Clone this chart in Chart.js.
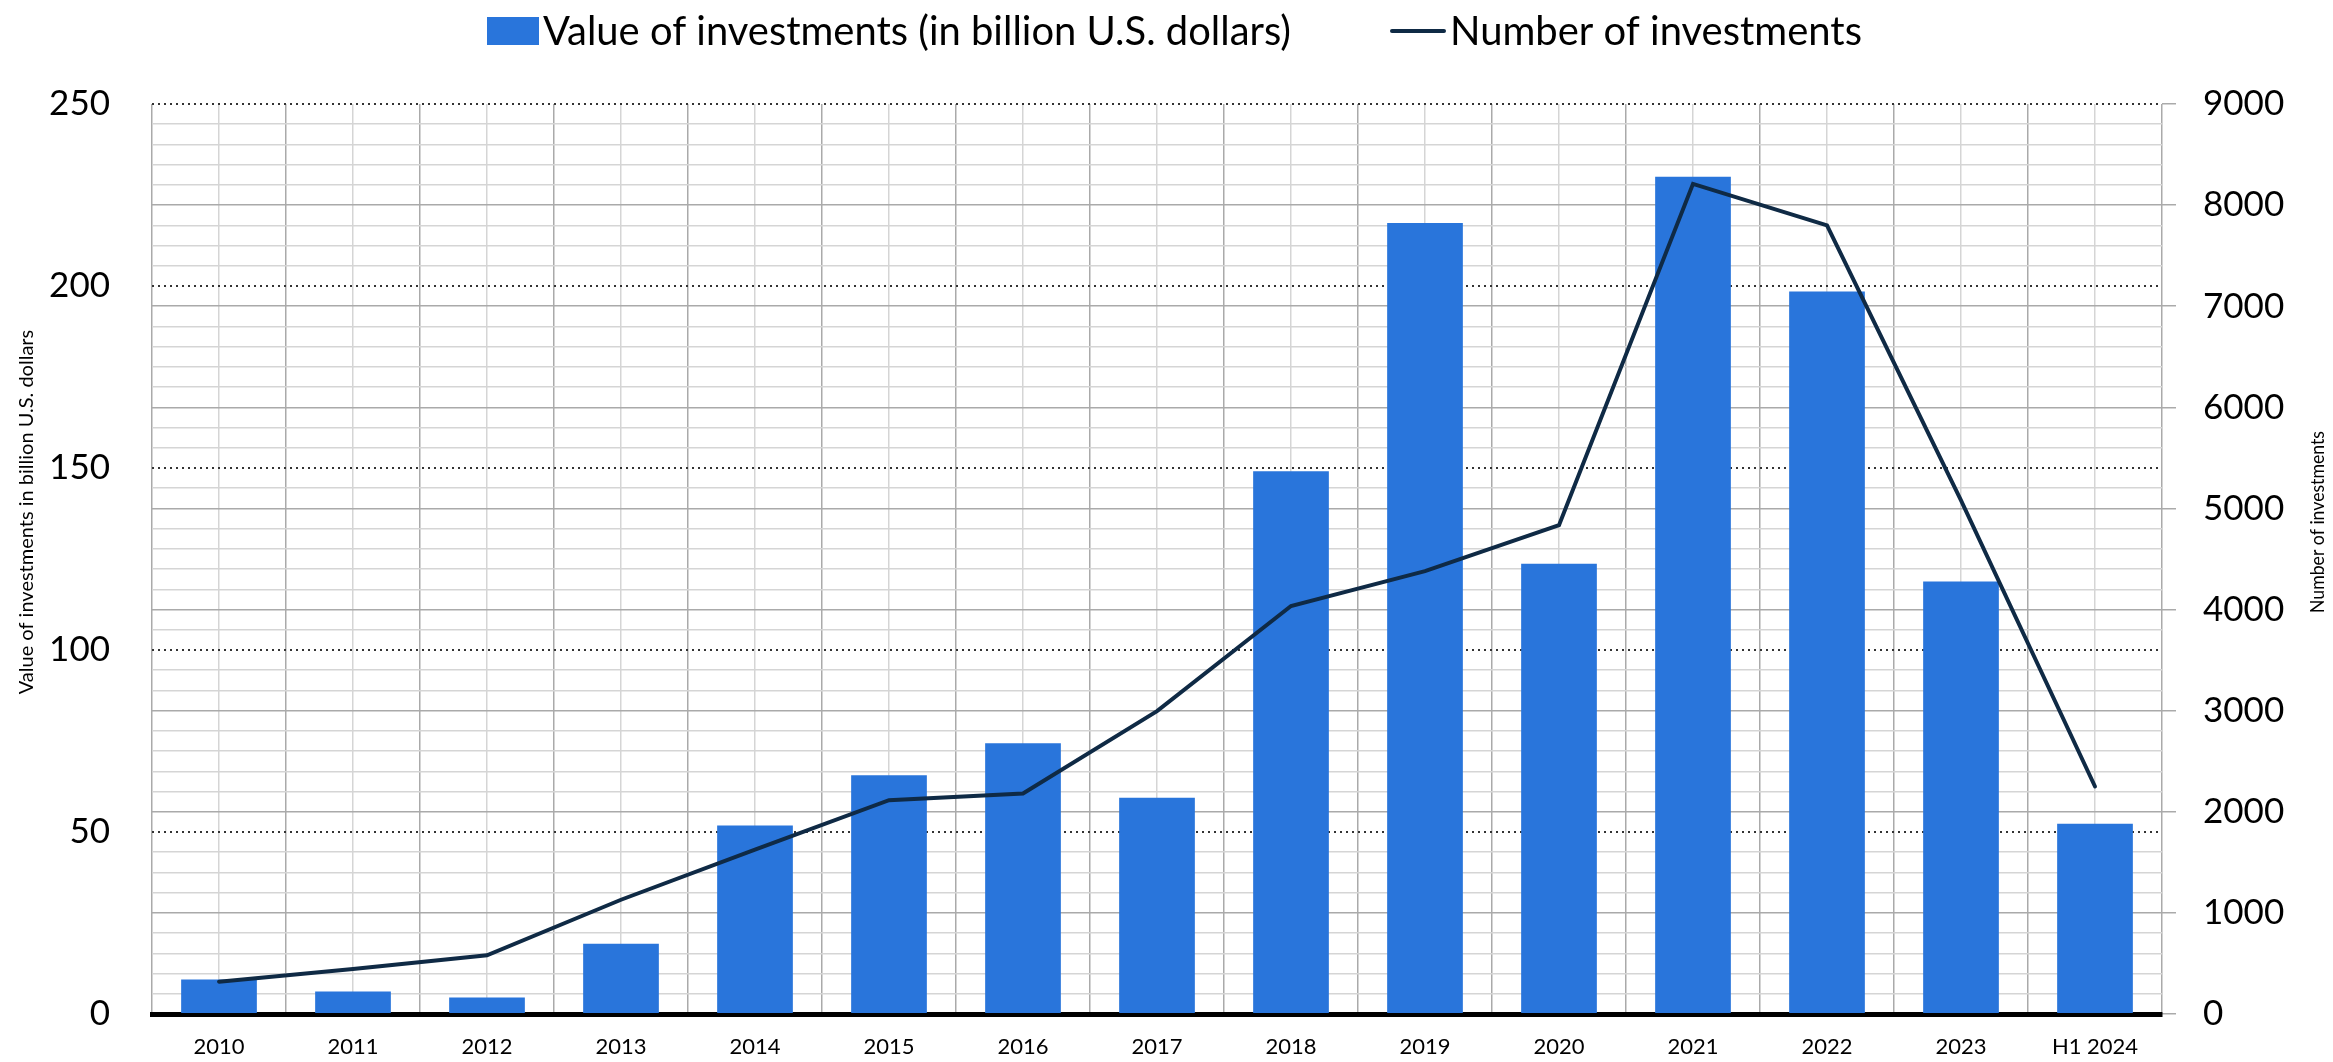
<!DOCTYPE html>
<html>
<head>
<meta charset="utf-8">
<title>Investments</title>
<script src="https://cdn.jsdelivr.net/npm/chart.js@4/dist/chart.umd.min.js"></script>
<style>
  html, body { margin: 0; padding: 0; background: #ffffff; overflow: hidden; }
  canvas { display: block; }
</style>
</head>
<body>
<canvas id="chart" width="2333" height="1062"></canvas>
<script>
// Categories and series
const years = ['2010', '2011', '2012', '2013', '2014', '2015', '2016', '2017',
               '2018', '2019', '2020', '2021', '2022', '2023', 'H1 2024'];
const investmentValue = [9.5, 6.2, 4.5, 19.3, 51.8, 65.6, 74.4, 59.4,
                         149.1, 217.3, 123.7, 230.0, 198.5, 118.8, 52.3];
const investmentCount = [320, 445, 580, 1130, 1625, 2115, 2180, 2995,
                         4035, 4380, 4835, 8210, 7800, 5080, 2250];

// Series / axis labels
const valueLabel = 'Value of investments (in billion U.S. dollars)';
const countLabel = 'Number of investments';
const valueAxisTitle = 'Value of investments in billion U.S. dollars';
const countAxisTitle = 'Number of investments';

// Axis ranges
const valueMax = 250, valueStep = 50;
const countMax = 9000, countStep = 200, countLabelStep = 1000;

const BAR = '#2975db';
const LINE = '#0f2a45';
const GRID_DARK = '#aaaaaa';
const GRID_LIGHT = '#d5d5d5';
const NONE = 'rgba(0,0,0,0)';
const FONT = 'Lato';

// Legend and rotated axis titles drawn on the canvas
const frameText = {
  id: 'frameText',
  afterDraw(chart) {
    const ctx = chart.ctx;
    const ds = chart.data.datasets;
    ctx.save();

    // legend
    ctx.font = '40px ' + FONT;
    ctx.textAlign = 'left';
    ctx.textBaseline = 'alphabetic';
    ctx.fillStyle = ds[0].backgroundColor;
    ctx.fillRect(487, 17, 52, 28);
    ctx.fillStyle = '#000';
    ctx.fillText(ds[0].label, 543, 45, 748);

    ctx.strokeStyle = ds[1].borderColor;
    ctx.lineWidth = 4;
    ctx.lineCap = 'round';
    ctx.beginPath();
    ctx.moveTo(1392, 31);
    ctx.lineTo(1444, 31);
    ctx.stroke();
    ctx.fillText(ds[1].label, 1450, 45, 412);

    // axis titles, reading bottom to top
    ctx.font = '20px ' + FONT;
    ctx.textAlign = 'center';
    ctx.textBaseline = 'middle';

    ctx.save();
    ctx.translate(27, 512);
    ctx.rotate(-Math.PI / 2);
    ctx.fillText(valueAxisTitle, 0, 0, 370);
    ctx.restore();

    ctx.save();
    ctx.translate(2318, 522);
    ctx.rotate(-Math.PI / 2);
    ctx.fillText(countAxisTitle, 0, 0, 182);
    ctx.restore();

    ctx.restore();
  }
};

// keep the vertical axes from reserving extra room above / below the plot
function fixVertical(width) {
  return s => { s.width = width; s.paddingTop = 0; s.paddingBottom = 0; };
}

new Chart(document.getElementById('chart'), {
  data: {
    labels: years,
    datasets: [
      {
        type: 'bar',
        label: valueLabel,
        data: investmentValue,
        backgroundColor: BAR,
        borderWidth: 0,
        xAxisID: 'x',
        yAxisID: 'y',
        categoryPercentage: 1,
        barPercentage: 0.565,
        order: 2
      },
      {
        type: 'line',
        label: countLabel,
        data: investmentCount,
        borderColor: LINE,
        backgroundColor: LINE,
        borderWidth: 4,
        pointRadius: 0,
        tension: 0,
        borderJoinStyle: 'miter',
        borderCapStyle: 'round',
        fill: false,
        xAxisID: 'x',
        yAxisID: 'y1',
        order: 1
      }
    ]
  },
  options: {
    responsive: false,
    devicePixelRatio: 1,
    animation: false,
    layout: { padding: { top: 104, left: 0, right: 0, bottom: 0 } },
    plugins: {
      legend: { display: false },
      tooltip: { enabled: false }
    },
    scales: {
      x: {
        type: 'category',
        position: 'bottom',
        offset: true,
        grid: { offset: true, color: GRID_DARK, lineWidth: 1.5, drawTicks: false },
        border: { display: true, color: '#000000', width: 5 },
        ticks: { font: { family: FONT, size: 22 }, color: '#000', padding: 20,
                 maxRotation: 0, autoSkip: false },
        afterFit(s) { s.height = 48; s.paddingLeft = 0; s.paddingRight = 0; }
      },
      xc: {
        type: 'category',
        position: 'bottom',
        offset: true,
        grid: { offset: false, color: GRID_LIGHT, lineWidth: 1.5, drawTicks: false },
        border: { display: false },
        ticks: { display: false },
        afterFit(s) { s.height = 0; s.paddingLeft = 0; s.paddingRight = 0; }
      },
      y: {
        position: 'left',
        min: 0,
        max: valueMax,
        ticks: { stepSize: valueStep, font: { family: FONT, size: 35 }, color: '#000', padding: 42 },
        grid: {
          color: c => (c.tick && c.tick.value === 0) ? NONE : '#333333',
          lineWidth: 2,
          drawTicks: false
        },
        border: { display: false, dash: [2, 4] },
        afterFit: fixVertical(152)
      },
      y1: {
        position: 'right',
        min: 0,
        max: countMax,
        ticks: {
          stepSize: countStep,
          autoSkip: false,
          font: { family: FONT, size: 35 },
          color: '#000',
          padding: 27,
          callback: v => (v % countLabelStep === 0 ? String(v) : '')
        },
        grid: {
          lineWidth: 1.5,
          tickLength: 14,
          color: c => {
            const v = c.tick.value;
            if (v % (countMax / (valueMax / valueStep)) === 0) return NONE;
            return v % countLabelStep === 0 ? GRID_DARK : GRID_LIGHT;
          },
          tickColor: c => (c.tick.value % countLabelStep === 0 ? GRID_DARK : NONE)
        },
        border: { display: false },
        afterFit: fixVertical(171)
      }
    }
  },
  plugins: [frameText]
});
</script>
</body>
</html>
